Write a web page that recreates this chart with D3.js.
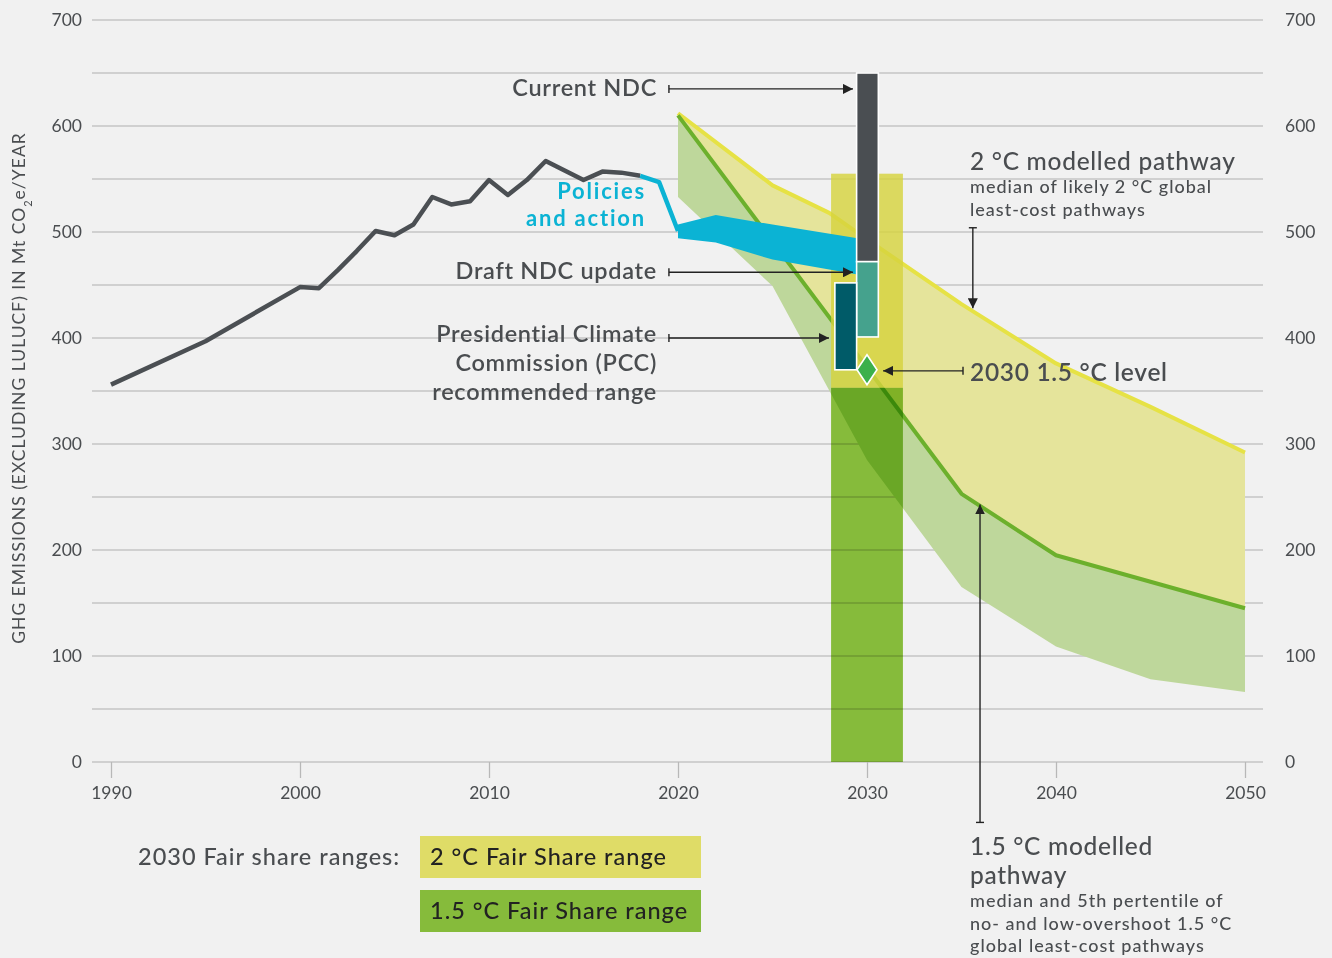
<!DOCTYPE html>
<html>
<head>
<meta charset="utf-8">
<script src="https://cdn.jsdelivr.net/npm/d3@7"></script>
<style>
  html, body { margin: 0; padding: 0; background: #f1f1f1; }
  svg { display: block; font-family: Lato, "Noto Sans", sans-serif; }
</style>
</head>
<body>
<div id="chart"></div>
<script>
// historic emissions (Mt CO2e, excl. LULUCF)
var histYears  = [1990, 1995, 2000, 2001, 2002, 2003, 2004, 2005, 2006, 2007, 2008, 2009, 2010, 2011, 2012, 2013, 2014, 2015, 2016, 2017, 2018];
var histValues = [356, 397, 448, 447, 464, 482, 501, 497, 507, 533, 526, 529, 549, 535, 549, 567, 558, 549, 557, 556, 553];

// policies and action projection
var policyLineYears  = [2018, 2019, 2020];
var policyLineValues = [553, 547, 501];
var policyBandYears  = [2020, 2022, 2025, 2029.5];
var policyBandHigh   = [507, 516, 507, 494];
var policyBandLow    = [494, 490, 474, 460];

// 2 °C modelled pathway (median)
var twoDegYears  = [2020, 2025, 2028, 2030, 2035, 2040, 2045, 2050];
var twoDegValues = [612, 544, 518, 493, 432, 376, 335, 292];

// 1.5 °C modelled pathway: median and 5th percentile
var onePointFiveYears  = [2020, 2035, 2040, 2045, 2050];
var onePointFiveMedian = [610, 253, 195, 170, 145];
var onePointFiveLowYears = [2020, 2025, 2030, 2035, 2040, 2045, 2050];
var onePointFiveLow      = [533, 449, 285, 165, 109, 78, 66];

// 2030 ranges [low, high]
var fairShareYears  = [2028.1, 2031.9];
var fairShare2      = [353, 555];
var fairShare15     = [0, 353];
var ndcYears        = [2029.45, 2030.6];
var currentNdc      = [472, 650];
var draftNdc        = [401, 472];
var pccYears        = [2028.3, 2029.45];
var pccRange        = [370, 452];
var level15Year     = 2030;
var level15Value    = 370;

var xTicks = [1990, 2000, 2010, 2020, 2030, 2040, 2050];
var yTicks = [0, 100, 200, 300, 400, 500, 600, 700];

var textColor = "#4a4d50";

var svg = d3.select("#chart").append("svg")
    .attr("width", 1332)
    .attr("height", 958);

svg.append("rect")
    .attr("width", 1332)
    .attr("height", 958)
    .attr("fill", "#f1f1f1");

var x = d3.scaleLinear().domain([1990, 2050]).range([111, 1245]);
var y = d3.scaleLinear().domain([0, 700]).range([762, 20]);

var plotLeft = 92, plotRight = 1263;

// arrow markers
var defs = svg.append("defs");
defs.append("marker")
    .attr("id", "head")
    .attr("markerUnits", "userSpaceOnUse")
    .attr("viewBox", "0 0 10 10")
    .attr("refX", 10).attr("refY", 5)
    .attr("markerWidth", 10).attr("markerHeight", 10)
    .attr("orient", "auto")
    .append("path")
    .attr("d", "M0,0L10,5L0,10Z")
    .attr("fill", "#222");
defs.append("marker")
    .attr("id", "tail")
    .attr("markerUnits", "userSpaceOnUse")
    .attr("viewBox", "0 0 4 10")
    .attr("refX", 2).attr("refY", 5)
    .attr("markerWidth", 4).attr("markerHeight", 10)
    .attr("orient", "auto")
    .append("path")
    .attr("d", "M2,1V9")
    .attr("stroke", "#222")
    .attr("stroke-width", 1.4);

// gridlines every 50
svg.append("g")
    .selectAll("line")
    .data(d3.range(0, 701, 50))
    .join("line")
    .attr("x1", plotLeft).attr("x2", plotRight)
    .attr("y1", function (d) { return y(d); })
    .attr("y2", function (d) { return y(d); })
    .attr("stroke", "#c4c4c4")
    .attr("stroke-width", 1.3);

// axes
var leftAxis = svg.append("g")
    .attr("transform", "translate(" + plotLeft + ",0)")
    .call(d3.axisLeft(y).tickValues(yTicks).tickSize(0).tickPadding(10));
var rightAxis = svg.append("g")
    .attr("transform", "translate(" + plotRight + ",0)")
    .call(d3.axisRight(y).tickValues(yTicks).tickSize(0).tickPadding(22));
var bottomAxis = svg.append("g")
    .attr("transform", "translate(0," + y(0) + ")")
    .call(d3.axisBottom(x).tickValues(xTicks).tickSize(16).tickPadding(9).tickFormat(d3.format("d")));

[leftAxis, rightAxis, bottomAxis].forEach(function (a) {
    a.select(".domain").remove();
    a.selectAll("text")
        .attr("fill", textColor)
        .style("font-size", "17.5px")
        .style("font-family", "Lato, sans-serif");
    a.selectAll(".tick line").attr("stroke", "#b8b8b8").attr("stroke-width", 1.3);
});

// y axis title
var yTitle = svg.append("text")
    .attr("transform", "translate(25,388) rotate(-90)")
    .attr("text-anchor", "middle")
    .attr("fill", textColor)
    .style("font-size", "17.5px")
    .style("letter-spacing", "1px");
yTitle.append("tspan").text("GHG EMISSIONS (EXCLUDING LULUCF) IN Mt CO");
yTitle.append("tspan").attr("baseline-shift", "sub").style("font-size", "11px").text("2");
yTitle.append("tspan").text("e/YEAR");

var line = d3.line()
    .x(function (d) { return x(d[0]); })
    .y(function (d) { return y(d[1]); });

function pairs(xs, ys) {
    return xs.map(function (v, i) { return [v, ys[i]]; });
}

// 2 °C band: between 2 °C median and 1.5 °C median
var twoDegPts = pairs(twoDegYears, twoDegValues);
var medPts = pairs(onePointFiveYears, onePointFiveMedian);
var lowPts = pairs(onePointFiveLowYears, onePointFiveLow);

svg.append("path")
    .attr("d", line(twoDegPts.concat(medPts.slice().reverse())) + "Z")
    .attr("fill", "#e5e49b");

svg.append("path")
    .attr("d", line(medPts.concat(lowPts.slice().reverse())) + "Z")
    .attr("fill", "#bed79b");

// modelled pathway lines
svg.append("path")
    .attr("d", line(twoDegPts))
    .attr("fill", "none")
    .attr("stroke", "#e6e245")
    .attr("stroke-width", 4)
    .attr("stroke-linejoin", "round");

svg.append("path")
    .attr("d", line(medPts))
    .attr("fill", "none")
    .attr("stroke", "#6cb02c")
    .attr("stroke-width", 4)
    .attr("stroke-linejoin", "round");

// fair share ranges
svg.append("rect")
    .attr("x", x(fairShareYears[0]))
    .attr("width", x(fairShareYears[1]) - x(fairShareYears[0]))
    .attr("y", y(fairShare2[1]))
    .attr("height", y(fairShare2[0]) - y(fairShare2[1]))
    .attr("fill", "#d6d33e")
    .attr("opacity", 0.82);

svg.append("rect")
    .attr("x", x(fairShareYears[0]))
    .attr("width", x(fairShareYears[1]) - x(fairShareYears[0]))
    .attr("y", y(fairShare15[1]))
    .attr("height", y(fairShare15[0]) - y(fairShare15[1]))
    .attr("fill", "#8ec63e")
    .style("mix-blend-mode", "multiply");

// historic emissions
svg.append("path")
    .attr("d", line(pairs(histYears, histValues)))
    .attr("fill", "none")
    .attr("stroke", "#4b4f53")
    .attr("stroke-width", 4.5)
    .attr("stroke-linejoin", "round");

// policies and action
var policyPts = pairs(policyBandYears, policyBandHigh)
    .concat(pairs(policyBandYears, policyBandLow).reverse());
svg.append("path")
    .attr("d", line(policyPts) + "Z")
    .attr("fill", "#0bb3d4");
svg.append("path")
    .attr("d", line(pairs(policyLineYears, policyLineValues)))
    .attr("fill", "none")
    .attr("stroke", "#0bb3d4")
    .attr("stroke-width", 4.5)
    .attr("stroke-linejoin", "round");

// NDC and PCC ranges
function rangeBar(years, range, fill) {
    svg.append("rect")
        .attr("x", x(years[0]))
        .attr("width", x(years[1]) - x(years[0]))
        .attr("y", y(range[1]))
        .attr("height", y(range[0]) - y(range[1]))
        .attr("fill", fill)
        .attr("stroke", "#fff")
        .attr("stroke-width", 1.6);
}
rangeBar(ndcYears, currentNdc, "#4a4e52");
rangeBar(ndcYears, draftNdc, "#45a28d");
rangeBar(pccYears, pccRange, "#005b68");

// 2030 1.5 °C level diamond
var cx = x(level15Year), cy = y(level15Value);
svg.append("path")
    .attr("d", "M" + cx + "," + (cy - 15) + "L" + (cx + 10) + "," + cy + "L" + cx + "," + (cy + 15) + "L" + (cx - 10) + "," + cy + "Z")
    .attr("fill", "#3bb04b")
    .attr("stroke", "#fff")
    .attr("stroke-width", 1.6);

// annotation arrows (data coordinates)
var arrows = [
    [2019.52, 635, 2029.26, 635],
    [2019.52, 462, 2029.26, 462],
    [2019.52, 400, 2027.99, 400],
    [2035.08, 369, 2030.85, 369],
    [2035.6, 504, 2035.6, 428],
    [2035.98, -57, 2035.98, 243]
];
svg.append("g")
    .selectAll("line")
    .data(arrows)
    .join("line")
    .attr("x1", function (d) { return x(d[0]); })
    .attr("y1", function (d) { return y(d[1]); })
    .attr("x2", function (d) { return x(d[2]); })
    .attr("y2", function (d) { return y(d[3]); })
    .attr("stroke", "#222")
    .attr("stroke-width", 1.4)
    .attr("marker-start", "url(#tail)")
    .attr("marker-end", "url(#head)");

// labels: one <text> per block, a tspan per line
function label(lines, px, py, opts) {
    opts = opts || {};
    var t = svg.append("text")
        .attr("x", px).attr("y", py)
        .attr("text-anchor", opts.anchor || "start")
        .attr("fill", opts.color || textColor)
        .style("font-size", (opts.size || 23.5) + "px")
        .style("font-weight", opts.weight || 600)
        .style("letter-spacing", (opts.ls === undefined ? 0.7 : opts.ls) + "px");
    [].concat(lines).forEach(function (s, i) {
        t.append("tspan")
            .attr("x", px)
            .attr("dy", i === 0 ? 0 : (opts.lh || 29))
            .text(s);
    });
    return t;
}

label("Current NDC", 657, 96, {anchor: "end"});
label(["Policies", "and action"], 646, 199, {anchor: "end", color: "#0bb3d4", weight: 700, size: 22, ls: 1.8, lh: 27});
label("Draft NDC update", 657, 279, {anchor: "end"});
label(["Presidential Climate", "Commission (PCC)", "recommended range"], 657, 342, {anchor: "end", lh: 29});
label("2030 1.5 °C level", 970, 381, {size: 24.5});
label("2 °C modelled pathway", 970, 170, {size: 24.5, weight: 500});
label(["median of likely 2 °C global", "least-cost pathways"], 970, 193, {size: 18, weight: 500, ls: 1, lh: 23});
label(["1.5 °C modelled", "pathway"], 970, 855, {size: 24.5, weight: 500, lh: 29});
label(["median and 5th pertentile of", "no- and low-overshoot 1.5 °C", "global least-cost pathways"], 970, 907, {size: 18, weight: 500, ls: 1, lh: 22.5});

// legend
label("2030 Fair share ranges:", 138, 865, {weight: 500, ls: 1});
svg.append("rect").attr("x", 420).attr("y", 836).attr("width", 281).attr("height", 42).attr("fill", "#dfdc67");
svg.append("rect").attr("x", 420).attr("y", 890).attr("width", 281).attr("height", 42).attr("fill", "#86bb3b");
label("2 °C Fair Share range", 430, 865, {color: "#222", weight: 500, ls: 1});
label("1.5 °C Fair Share range", 430, 919, {color: "#222", weight: 500, ls: 1});
</script>
</body>
</html>
